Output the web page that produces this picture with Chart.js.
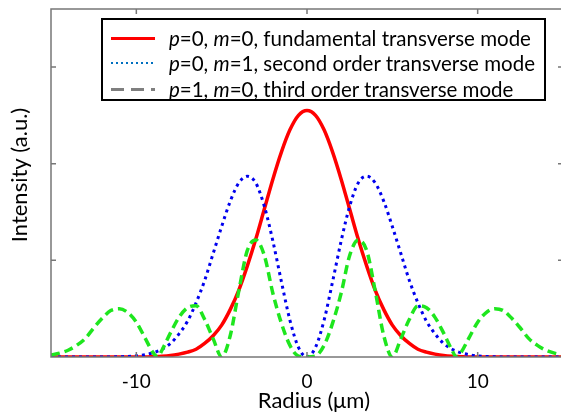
<!DOCTYPE html>
<html>
<head>
<meta charset="utf-8">
<script src="https://cdn.jsdelivr.net/npm/chart.js@4"></script>
<style>
  html, body { margin: 0; padding: 0; overflow: hidden; background: #fff; }
  #wrap { position: relative; width: 564px; height: 419px; }
  #legend {
    position: absolute; left: 101px; top: 18px; width: 441px; height: 79px;
    border: 2.5px solid #000; background: #fff;
    font-family: Lato, sans-serif; font-size: 20.5px; color: #000;
  }
  .row { position: absolute; left: 0; height: 26px; line-height: 26px; white-space: nowrap; }
  .sample { position: absolute; left: 8px; width: 44px; }
  .txt { position: absolute; left: 66px; top: 0; }
  .txt i { font-style: italic; }
</style>
</head>
<body>
<div id="wrap">
  <canvas id="modeChart" width="564" height="419"></canvas>
  <div id="legend">
    <div class="row" style="top:5px">
      <div class="sample" style="top:12px;height:2.5px;background:#ff0000"></div>
      <div class="txt"><i>p</i>=0, <i>m</i>=0, fundamental transverse mode</div>
    </div>
    <div class="row" style="top:30px">
      <div class="sample" style="top:12px;height:2px;background:repeating-linear-gradient(90deg,#0070c0 0 2px,transparent 2px 5px)"></div>
      <div class="txt"><i>p</i>=0, <i>m</i>=1, second order transverse mode</div>
    </div>
    <div class="row" style="top:56px">
      <div class="sample" style="top:12px;height:3px;background:repeating-linear-gradient(90deg,#7f7f7f 0 13px,transparent 13px 20px)"></div>
      <div class="txt"><i>p</i>=1, <i>m</i>=0, third order transverse mode</div>
    </div>
  </div>
</div>
<script>
// radius in um
var radius = [-15,-14.5,-14,-13.5,-13,-12.5,-12,-11.5,-11,-10.5,-10,-9.5,-9,-8.75,-8.5,-8,-7.5,-7,-6.5,-6,-5.5,-5,-4.5,-4,-3.5,-3,-2.5,-2,-1.5,-1,-0.5,
              0,0.5,1,1.5,2,2.5,3,3.5,4,4.5,5,5.5,6,6.5,7,7.5,8,8.5,8.75,9,9.5,10,10.5,11,11.5,12,12.5,13,13.5,14,14.5,15];
// p=0, m=0
var fundamental = [0,0,0,0,0,0,0,0,0,0,0,0,0.003,0.005,0.007,0.015,0.03,0.05,0.08,0.14,0.22,0.33,0.49,0.69,0.94,1.22,1.53,1.84,2.12,2.35,2.50,
                   2.55,2.50,2.35,2.12,1.84,1.53,1.22,0.94,0.69,0.49,0.33,0.22,0.14,0.08,0.05,0.03,0.015,0.007,0.005,0.003,0,0,0,0,0,0,0,0,0,0,0,0];
// p=0, m=1
var secondOrder = [0,0,0,0,0,0,0,0,0.003,0.006,0.012,0.024,0.045,0.06,0.08,0.14,0.24,0.37,0.56,0.79,1.07,1.35,1.61,1.80,1.87,1.80,1.56,1.20,0.78,0.38,0.10,
                   0,0.10,0.38,0.78,1.20,1.56,1.80,1.87,1.80,1.61,1.35,1.07,0.79,0.56,0.37,0.24,0.14,0.08,0.06,0.045,0.024,0.012,0.006,0.003,0,0,0,0,0,0,0,0];
// p=1, m=0
var thirdOrder = [0.02,0.04,0.07,0.12,0.19,0.30,0.40,0.48,0.50,0.46,0.36,0.20,0.04,0,0.07,0.25,0.41,0.51,0.53,0.39,0.19,0,0.22,0.68,1.10,1.21,1.05,0.66,0.35,0.12,0.01,
                  0,0.01,0.12,0.35,0.66,1.05,1.21,1.10,0.68,0.22,0,0.19,0.39,0.53,0.51,0.41,0.25,0.07,0,0.04,0.20,0.36,0.46,0.50,0.48,0.40,0.30,0.19,0.12,0.07,0.04,0.02];
var xTicks = [-10, 0, 10];
var yTicks = [0, 1, 2, 3];

function pts(vals) {
    return radius.map(function(r, i){ return {x: r, y: vals[i]}; });
}

// frame, inward ticks and axis titles
var framePlugin = {
    id: 'frame',
    afterDraw: function(chart) {
        var ctx = chart.ctx, a = chart.chartArea;
        var xs = chart.scales.x, ys = chart.scales.y;
        ctx.save();
        ctx.strokeStyle = '#777';
        ctx.lineWidth = 1.5;
        ctx.strokeRect(a.left, a.top, a.right - a.left, a.bottom - a.top);
        ctx.beginPath();
        xTicks.forEach(function(v){
            var px = xs.getPixelForValue(v);
            ctx.moveTo(px, a.bottom); ctx.lineTo(px, a.bottom - 5);
            ctx.moveTo(px, a.top); ctx.lineTo(px, a.top + 5);
        });
        yTicks.forEach(function(v){
            if (v === 0) return;
            var py = ys.getPixelForValue(v);
            ctx.moveTo(a.left, py); ctx.lineTo(a.left + 5, py);
            ctx.moveTo(a.right, py); ctx.lineTo(a.right - 5, py);
        });
        ctx.stroke();
        ctx.fillStyle = '#000';
        ctx.font = '22px Lato';
        ctx.textAlign = 'center';
        ctx.textBaseline = 'alphabetic';
        ctx.fillText('Radius (\u03bcm)', 314, 408);
        ctx.translate(27, 175);
        ctx.rotate(-Math.PI / 2);
        ctx.fillText('Intensity (a.u.)', 0, 0);
        ctx.restore();
    }
};

Chart.defaults.font.family = 'Lato';

var chart = new Chart(document.getElementById('modeChart').getContext('2d'), {
    type: 'line',
    data: {
        datasets: [{
            label: 'p=0, m=0, fundamental transverse mode',
            data: pts(fundamental),
            borderColor: '#ff0000',
            borderWidth: 3.5,
            order: 3
        }, {
            label: 'p=0, m=1, second order transverse mode',
            data: pts(secondOrder),
            borderColor: '#0000ee',
            borderWidth: 3,
            borderDash: [3, 4],
            order: 2
        }, {
            label: 'p=1, m=0, third order transverse mode',
            data: pts(thirdOrder),
            borderColor: 'rgb(30,230,30)',
            borderWidth: 3.5,
            borderDash: [9, 5],
            order: 1
        }]
    },
    options: {
        responsive: false,
        animation: false,
        layout: { padding: { top: 9, left: 0, right: 1, bottom: 0 } },
        elements: {
            point: { radius: 0 },
            line: { cubicInterpolationMode: 'monotone', fill: false }
        },
        plugins: {
            legend: { display: false },
            tooltip: { enabled: false }
        },
        scales: {
            x: {
                type: 'linear',
                min: -15,
                max: 15,
                afterBuildTicks: function(axis){ axis.ticks = xTicks.map(function(v){ return {value: v}; }); },
                afterFit: function(axis){ axis.height = 62; },
                grid: { display: false, drawTicks: false },
                border: { display: false },
                ticks: { color: '#000', font: { size: 19 }, padding: 13, maxRotation: 0 }
            },
            y: {
                min: 0,
                max: 3.6,
                afterBuildTicks: function(axis){ axis.ticks = yTicks.map(function(v){ return {value: v}; }); },
                afterFit: function(axis){ axis.width = 51; },
                grid: { display: false, drawTicks: false },
                border: { display: false },
                ticks: { display: false }
            }
        }
    },
    plugins: [framePlugin]
});
</script>
</body>
</html>
